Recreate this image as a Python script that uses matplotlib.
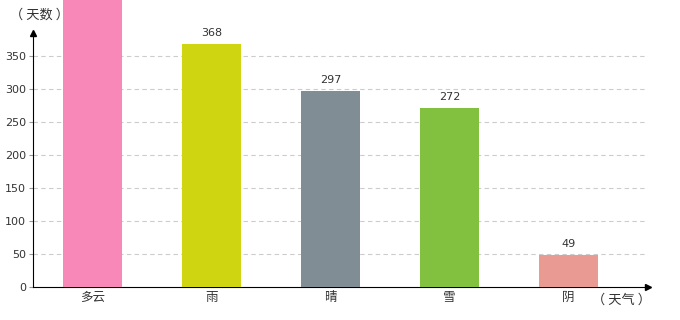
import matplotlib
matplotlib.use('Agg')
import matplotlib.pyplot as plt

plt.rcParams['font.family'] = ['Noto Sans CJK SC', 'DejaVu Sans']

weather = ['多云', '雨', '晴', '雪', '阴']
days = [452, 368, 297, 272, 49]  # first bar runs off the top, its label is not visible
colors = ['#F788B8', '#CFD511', '#808D95', '#82C040', '#E89A93']
y_ticks = [0, 50, 100, 150, 200, 250, 300, 350]

fig = plt.figure(figsize=(6.8, 3.2), dpi=100)
ax = fig.add_axes([33 / 680, 1 - 287 / 320, (648 - 33) / 680, (287 - 33) / 320])

x = list(range(len(weather)))
bars = ax.bar(x, days, width=0.5, color=colors, zorder=3, clip_on=False)
for xi, v in zip(x, days):
    if v < 385:
        ax.text(xi, v + 9, str(v), ha='center', va='bottom', fontsize=8, color='#333333',
                family='DejaVu Sans')

ax.set_xlim(-0.5, 4.67)
ax.set_ylim(0, 385)
ax.set_yticks(y_ticks)
ax.set_yticklabels([str(t) for t in y_ticks], fontsize=8, color='#333333', family='DejaVu Sans')
ax.set_xticks(x)
ax.set_xticklabels(weather, fontsize=9, color='#333333')
ax.tick_params(axis='x', length=0, pad=3)
ax.tick_params(axis='y', length=3, width=0.8, color='#999999', pad=2)

for t in y_ticks[1:]:
    ax.axhline(t, color='#cccccc', linestyle=(0, (4, 3)), linewidth=0.8, zorder=1)

for s in ['top', 'right']:
    ax.spines[s].set_visible(False)
ax.spines['left'].set_color('black')
ax.spines['bottom'].set_color('black')

# arrow heads on the axes
ax.plot(1, 0, '>', color='black', markersize=4, transform=ax.transAxes, clip_on=False)
ax.plot(0, 1, '^', color='black', markersize=4, transform=ax.transAxes, clip_on=False)

fig.text(10 / 680, 1 - 15 / 320, '（ 天数 ）', fontsize=9.5, color='#333333', va='center', ha='left')
fig.text(592 / 680, 1 - 300 / 320, '（ 天气 ）', fontsize=9.5, color='#333333', va='center', ha='left')

fig.savefig('out.png', dpi=100)
